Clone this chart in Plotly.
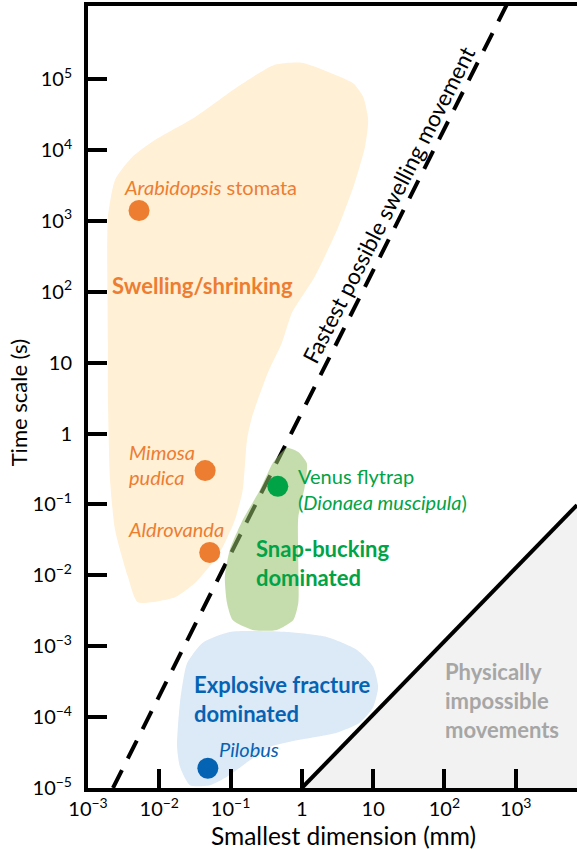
import numpy as np
import plotly.graph_objects as go

# Tick positions and labels
x_tick_vals = [1e-3, 1e-2, 1e-1, 1, 10, 1e2, 1e3]
x_tick_text = ["10<sup>−3</sup>", "10<sup>−2</sup>", "10<sup>−1</sup>", "1", "10",
               "10<sup>2</sup>", "10<sup>3</sup>"]
y_tick_vals = [1e-5, 1e-4, 1e-3, 1e-2, 1e-1, 1, 10, 1e2, 1e3, 1e4, 1e5]
y_tick_text = ["10<sup>−5</sup>", "10<sup>−4</sup>", "10<sup>−3</sup>", "10<sup>−2</sup>",
               "10<sup>−1</sup>", "1", "10", "10<sup>2</sup>", "10<sup>3</sup>",
               "10<sup>4</sup>", "10<sup>5</sup>"]

# Example organisms: smallest dimension (mm) and time scale (s)
species_dim = [0.0052, 0.044, 0.051, 0.46, 0.048]
species_time = [1400, 0.30, 0.021, 0.18, 1.9e-5]
species_color = ["#ED7D31", "#ED7D31", "#ED7D31", "#00A346", "#0563B4"]

# Mechanism regions, outlines in log10(mm) / log10(s)
swelling_lx = [-0.38, 0.00, 0.37, 0.72, 0.86, 0.93, 0.885, 0.74, 0.51, 0.18, -0.14, -0.28,
               -0.48, -0.70, -0.77, -0.83, -0.94, -1.11, -1.26, -1.50, -1.78, -2.30, -2.44,
               -2.62, -2.69, -2.72, -2.72, -2.73, -2.72, -2.62, -2.38, -2.06, -1.50, -0.90, -0.38]
swelling_ly = [5.20, 5.23, 5.10, 4.94, 4.75, 4.42, 4.04, 3.53, 2.91, 2.21, 1.70, 1.28,
               0.85, 0.23, -0.09, -0.80, -1.22, -1.60, -1.83, -2.11, -2.31, -2.38, -2.02,
               -1.36, -0.66, 0.51, 1.28, 2.59, 3.05, 3.58, 3.90, 4.14, 4.46, 4.89, 5.20]

snap_lx = [-0.21, -0.05, 0.07, 0.04, -0.05, -0.05, -0.05, -0.12, -0.35, -0.69, -0.97, -1.05,
           -1.08, -1.01, -0.83, -0.59, -0.41, -0.28, -0.21]
snap_ly = [-0.20, -0.26, -0.42, -0.75, -1.18, -1.83, -2.39, -2.63, -2.77, -2.77, -2.63, -2.39,
           -2.02, -1.64, -1.22, -0.80, -0.42, -0.26, -0.20]

fracture_lx = [-1.01, -0.21, 0.35, 0.77, 1.00, 1.07, 1.00, 0.81, 0.49, -0.03, -0.45, -0.73,
               -1.05, -1.29, -1.57, -1.71, -1.75, -1.71, -1.61, -1.39, -1.01]
fracture_ly = [-2.80, -2.80, -2.87, -3.05, -3.29, -3.58, -3.86, -4.08, -4.22, -4.32, -4.42, -4.61,
               -4.84, -4.96, -4.96, -4.70, -4.42, -3.80, -3.24, -2.95, -2.80]

# Limits: fastest swelling (t ~ L^2) and physical limit (t ~ L)
swell_limit_x = [0.00224, 760]
swell_limit_y = [1e-5, 1.15e6]
phys_limit_x = [1, 7244]
phys_limit_y = [1e-5, 0.098]

FONT = "Lato"
fig = go.Figure()


def region(lx, ly, color):
    fig.add_trace(go.Scatter(
        x=10 ** np.array(lx), y=10 ** np.array(ly), mode="lines",
        line=dict(color="rgba(0,0,0,0)", width=0, shape="spline", smoothing=0.6),
        fill="toself", fillcolor=color, hoverinfo="skip"))


region(swelling_lx, swelling_ly, "#FFF0D6")
region(fracture_lx, fracture_ly, "#DCE9F6")

# Physically impossible zone
fig.add_trace(go.Scatter(
    x=[phys_limit_x[0], phys_limit_x[1], phys_limit_x[1], phys_limit_x[0]],
    y=[phys_limit_y[0], phys_limit_y[1], phys_limit_y[0], phys_limit_y[0]],
    mode="lines", line=dict(width=0, color="rgba(0,0,0,0)"),
    fill="toself", fillcolor="#F2F2F2", hoverinfo="skip"))
fig.add_trace(go.Scatter(x=phys_limit_x, y=phys_limit_y, mode="lines",
                         line=dict(color="black", width=4), hoverinfo="skip"))

# Fastest possible swelling movement
fig.add_trace(go.Scatter(x=swell_limit_x, y=swell_limit_y, mode="lines",
                         line=dict(color="black", width=4, dash="20px,13px"),
                         hoverinfo="skip"))

# Snap-buckling region drawn translucent over the dashed limit
region(snap_lx, snap_ly, "rgba(150,192,105,0.55)")

fig.add_trace(go.Scatter(x=species_dim, y=species_time, mode="markers",
                         marker=dict(size=21, color=species_color, line=dict(width=0)),
                         hoverinfo="skip"))


def label(lines, lx, ly, color, size, spacing, anchor="left", angle=0):
    n = len(lines)
    for i, txt in enumerate(lines):
        fig.add_annotation(
            x=lx, y=ly, xref="x", yref="y", text=txt, showarrow=False,
            xanchor=anchor, yanchor="middle", textangle=angle,
            yshift=((n - 1) / 2 - i) * spacing,
            font=dict(family=FONT, size=size, color=color))


ORANGE = "#ED7D31"
GREEN = "#00A346"
BLUE = "#0563B4"
REG = 20
BOLD = 22
label(["<i>Arabidopsis</i> stomata"], -1.275, 3.48, ORANGE, REG, 0, anchor="center")
label(["<b>Swelling/shrinking</b>"], -2.69, 2.09, ORANGE, BOLD, 0)
label(["<i>Mimosa</i>", "<i>pudica</i>"], -2.45, -0.44, ORANGE, REG, 25)
label(["<i>Aldrovanda</i>"], -2.47, -1.35, ORANGE, REG, 0)
label(["Venus flytrap", "(<i>Dionaea muscipula</i>)"], -0.08, -0.78, GREEN, REG, 26)
label(["<b>Snap-bucking</b>", "<b>dominated</b>"], -0.67, -1.83, GREEN, BOLD, 29)
label(["<b>Explosive fracture</b>", "<b>dominated</b>"], -1.54, -3.74, BLUE, BOLD, 29)
label(["<i>Pilobus</i>"], -1.19, -4.45, BLUE, REG, 0)
label(["<b>Physically</b>", "<b>impossible</b>", "<b>movements</b>"], 1.98, -3.77,
      "#A6A6A6", BOLD, 29)
label(["Fastest possible swelling movement"], 1.21, 3.22, "black", 22.5, 0,
      anchor="center", angle=-63)

# Axis titles
fig.add_annotation(x=0.5235, y=-0.0602, xref="paper", yref="paper",
                   text="Smallest dimension (mm)", showarrow=False,
                   xanchor="center", yanchor="middle",
                   font=dict(family=FONT, size=24.5, color="black"))
fig.add_annotation(x=-0.143, y=0.492, xref="paper", yref="paper",
                   text="Time scale (s)", showarrow=False, textangle=-90,
                   xanchor="center", yanchor="middle",
                   font=dict(family=FONT, size=22, color="black"))

axis_common = dict(type="log", ticks="inside", ticklen=19, tickwidth=3.5,
                   tickcolor="black", showline=True, linewidth=4, linecolor="black",
                   showgrid=False, zeroline=False,
                   tickfont=dict(family=FONT, size=20, color="black"))
fig.update_xaxes(range=[-3, 3.86], tickvals=x_tick_vals, ticktext=x_tick_text,
                 mirror=True, **axis_common)
fig.update_yaxes(range=[-5, 6.03], tickvals=y_tick_vals, ticktext=y_tick_text,
                 ticklabelstandoff=8, **axis_common)

fig.update_layout(width=577, height=849, margin=dict(l=88, r=0, t=6, b=61),
                  plot_bgcolor="white", paper_bgcolor="white", showlegend=False,
                  font=dict(family=FONT, size=18, color="black"))

fig.write_html("out.html")
